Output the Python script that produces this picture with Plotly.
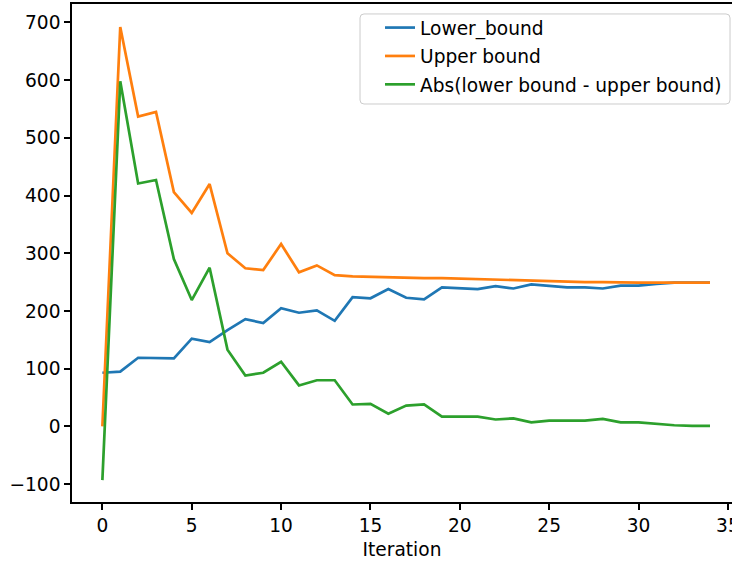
import plotly.graph_objects as go

# Bounds recorded at each iteration
iterations = list(range(35))
lower_bound = [93, 95, 119, 119, 118, 152, 146, 167, 186, 179, 205, 197, 201, 183, 224,
               222, 238, 223, 220, 241, 240, 238, 243, 239, 246, 243, 241, 241, 239, 244,
               244, 247, 249, 249, 249]
upper_bound = [0, 692, 537, 545, 406, 370, 420, 300, 274, 271, 316, 267, 279, 262, 260,
               259, 258, 257, 257, 257, 256, 255, 254, 253, 252, 251, 250, 250, 250, 249,
               249, 249, 249, 249, 249]
gap = [-93, 598, 421, 427, 290, 219, 275, 133, 88, 93, 112, 71, 80, 80, 38,
       39, 22, 36, 38, 17, 17, 17, 12, 14, 7, 10, 10, 10, 13, 7,
       7, 4, 2, 1, 1]

series = [
    ("Lower_bound", lower_bound, "#1f77b4"),
    ("Upper bound", upper_bound, "#ff7f0e"),
    ("Abs(lower bound - upper bound)", gap, "#2ca02c"),
]

fig = go.Figure()
for i, (name, values, color) in enumerate(series):
    fig.add_trace(go.Scatter(
        x=iterations, y=values, mode="lines", name=name,
        line=dict(color=color, width=2.7), legendgroup=f"g{i}",
    ))

font = dict(family="DejaVu Sans", size=18.6, color="#000000")


def rounded_box(x0, y0, x1, y1, rx, ry):
    """SVG path for a rectangle with rounded corners (paper coordinates)."""
    return (f"M {x0 + rx},{y0} L {x1 - rx},{y0} Q {x1},{y0} {x1},{y0 + ry} "
            f"L {x1},{y1 - ry} Q {x1},{y1} {x1 - rx},{y1} "
            f"L {x0 + rx},{y1} Q {x0},{y1} {x0},{y1 - ry} "
            f"L {x0},{y0 + ry} Q {x0},{y0} {x0 + rx},{y0} Z")


# legend frame drawn separately so it can carry wider padding and rounded corners
fig.add_shape(
    type="path", xref="paper", yref="paper",
    path=rounded_box(0.4364, 0.7992, 0.997, 0.98, 0.006, 0.008),
    line=dict(color="#cccccc", width=1), fillcolor="rgba(255,255,255,0.8)",
    layer="above",
)

fig.update_layout(
    width=732, height=562,
    margin=dict(l=72, r=0, t=4, b=60),
    paper_bgcolor="white", plot_bgcolor="white",
    font=font,
    showlegend=True,
    legend=dict(
        x=0.4667, y=0.99, xanchor="left", yanchor="top",
        bgcolor="rgba(0,0,0,0)", borderwidth=0,
        font=font, tracegroupgap=1.2, traceorder="grouped",
    ),
    xaxis=dict(
        range=[-1.7, 35.23], tickmode="array", tickvals=[0, 5, 10, 15, 20, 25, 30, 35],
        ticklabeloverflow="allow", automargin=False,
        showgrid=False, zeroline=False, showline=True, linecolor="#000000", linewidth=1.5,
        mirror=True, ticks="outside", ticklen=6, tickwidth=1.5, tickcolor="#000000",
        title=dict(text="Iteration", font=font, standoff=8),
    ),
    yaxis=dict(
        range=[-131, 732], tickmode="array",
        tickvals=[-100, 0, 100, 200, 300, 400, 500, 600, 700],
        automargin=False,
        showgrid=False, zeroline=False, showline=True, linecolor="#000000", linewidth=1.5,
        mirror=False, ticks="outside", ticklen=6, tickwidth=1.5, tickcolor="#000000",
    ),
)

fig.write_html("out.html")
